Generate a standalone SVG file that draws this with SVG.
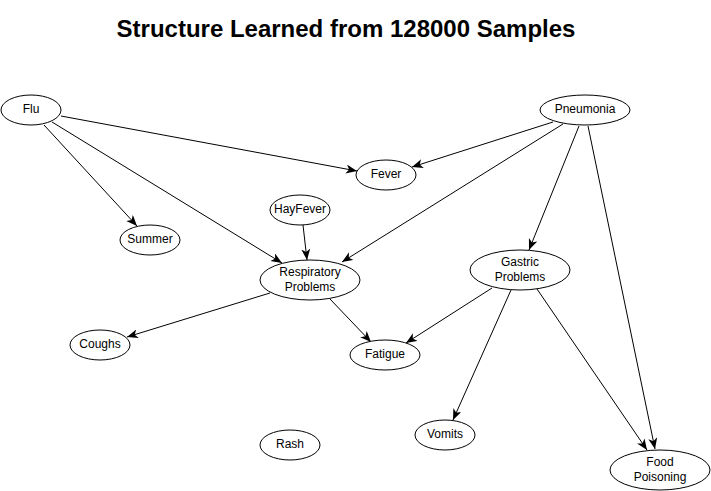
<svg xmlns="http://www.w3.org/2000/svg" width="711" height="491" viewBox="0 0 711 491">
<style>
.n ellipse{fill:#fff;stroke:#000;stroke-width:1}
.n text,.t{font-family:"Liberation Sans",Arial,sans-serif;font-size:12px;text-anchor:middle;fill:#000}
.t{font-size:24px;font-weight:bold}
.e line{stroke:#000;stroke-width:1;marker-end:url(#a)}
</style>
<defs>
<marker id="a" markerUnits="userSpaceOnUse" markerWidth="12" markerHeight="10" refX="11" refY="4.5" orient="auto">
<path d="M0,0 L11,4.5 L0,9 L3,4.5 Z" fill="#000"/>
</marker>
</defs>
<rect width="711" height="491" fill="#fff"/>
<text class="t" x="346" y="37">Structure Learned from 128000 Samples</text>
<g class="e">
<line x1="61" y1="116" x2="357" y2="171"/>
<line x1="44" y1="125" x2="137" y2="226"/>
<line x1="52" y1="122" x2="282" y2="263"/>
<line x1="303" y1="225" x2="307" y2="260"/>
<line x1="553" y1="122" x2="412" y2="167"/>
<line x1="563" y1="124" x2="342" y2="262"/>
<line x1="579" y1="126" x2="529" y2="250"/>
<line x1="588" y1="126" x2="655" y2="449"/>
<line x1="270" y1="293" x2="127" y2="337"/>
<line x1="330" y1="299" x2="371" y2="342"/>
<line x1="492" y1="288" x2="406" y2="343"/>
<line x1="511" y1="290" x2="453" y2="420"/>
<line x1="537" y1="289" x2="647" y2="450"/>
</g>
<g id="flu" class="n"><ellipse cx="31" cy="110" rx="30" ry="15"/><text x="31" y="113">Flu</text></g>
<g id="pneumonia" class="n"><ellipse cx="585" cy="110" rx="45" ry="15"/><text x="585" y="113">Pneumonia</text></g>
<g id="fever" class="n"><ellipse cx="386" cy="175" rx="30" ry="15"/><text x="386" y="178">Fever</text></g>
<g id="hayfever" class="n"><ellipse cx="300" cy="210" rx="30" ry="15"/><text x="300" y="213">HayFever</text></g>
<g id="summer" class="n"><ellipse cx="150" cy="240" rx="30" ry="15"/><text x="150" y="243">Summer</text></g>
<g id="respiratory" class="n"><ellipse cx="310" cy="280" rx="50" ry="20"/><text x="310" y="276">Respiratory</text><text x="310" y="291">Problems</text></g>
<g id="gastric" class="n"><ellipse cx="520" cy="270" rx="50" ry="20"/><text x="520" y="266">Gastric</text><text x="520" y="281">Problems</text></g>
<g id="coughs" class="n"><ellipse cx="100" cy="345" rx="30" ry="15"/><text x="100" y="348">Coughs</text></g>
<g id="fatigue" class="n"><ellipse cx="385" cy="355" rx="35" ry="15"/><text x="385" y="358">Fatigue</text></g>
<g id="vomits" class="n"><ellipse cx="445" cy="435" rx="30" ry="15"/><text x="445" y="438">Vomits</text></g>
<g id="rash" class="n"><ellipse cx="290" cy="445" rx="30" ry="15"/><text x="290" y="448">Rash</text></g>
<g id="food" class="n"><ellipse cx="660" cy="470" rx="50" ry="20"/><text x="660" y="466">Food</text><text x="660" y="481">Poisoning</text></g>
</svg>
